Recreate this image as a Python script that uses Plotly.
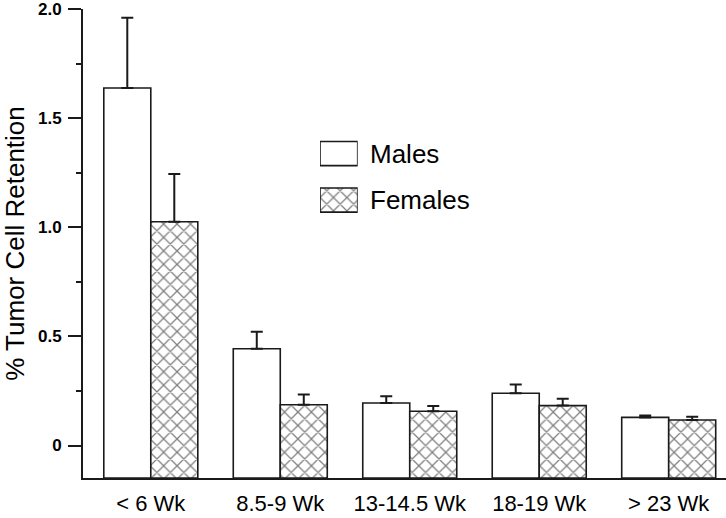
import plotly.graph_objects as go

categories = ["< 6 Wk", "8.5-9 Wk", "13-14.5 Wk", "18-19 Wk", "> 23 Wk"]
males = [1.64, 0.444, 0.195, 0.240, 0.129]
males_err = [0.322, 0.078, 0.031, 0.040, 0.009]
females = [1.026, 0.187, 0.157, 0.183, 0.117]
females_err = [0.219, 0.047, 0.024, 0.032, 0.015]
series_names = ["Males", "Females"]
y_tickvals = [0, 0.5, 1.0, 1.5, 2.0]
y_ticktext = ["0", "0.5", "1.0", "1.5", "2.0"]

Y_MIN = -0.149
Y_MAX = 2.002
FONT = "Liberation Sans, Arial, sans-serif"
INK = "#1a1a1a"

fig = go.Figure()

hatch = dict(shape="x", size=9.5, solidity=0.25, fgcolor="black", bgcolor="white")

fig.add_trace(go.Bar(
    name=series_names[0], x=categories,
    y=[v - Y_MIN for v in males], base=Y_MIN,
    marker=dict(color="white", line=dict(color=INK, width=1.6)),
    error_y=dict(type="data", symmetric=False, array=males_err,
                 arrayminus=[0] * len(males), color=INK, thickness=2, width=6),
    showlegend=False,
))
fig.add_trace(go.Bar(
    name=series_names[1], x=categories,
    y=[v - Y_MIN for v in females], base=Y_MIN,
    marker=dict(color="white", line=dict(color=INK, width=1.6), pattern=hatch),
    error_y=dict(type="data", symmetric=False, array=females_err,
                 arrayminus=[0] * len(females), color=INK, thickness=2, width=6),
    showlegend=False,
))

# legend swatches drawn on a small inset axis
fig.add_trace(go.Bar(
    orientation="h", y=[series_names[0]], x=[1], xaxis="x2", yaxis="y2",
    marker=dict(color="white", line=dict(color=INK, width=1.6)),
    showlegend=False, hoverinfo="skip",
))
fig.add_trace(go.Bar(
    orientation="h", y=[series_names[1]], x=[1], xaxis="x2", yaxis="y2",
    marker=dict(color="white", line=dict(color=INK, width=1.6), pattern=hatch),
    showlegend=False, hoverinfo="skip",
))

for name in series_names:
    fig.add_annotation(
        text=name, xref="paper", yref="y2", x=0.4432, y=name,
        xanchor="left", yanchor="middle", showarrow=False,
        font=dict(family=FONT, size=26, color="black"),
    )

fig.update_layout(
    width=726, height=518,
    margin=dict(l=83, r=0, t=9, b=40),
    paper_bgcolor="white", plot_bgcolor="white",
    barmode="group", bargap=0.274, bargroupgap=0,
    font=dict(family=FONT, color="black"),
    xaxis=dict(
        type="category", range=[-0.5236, 4.4425],
        showline=True, linewidth=2, linecolor=INK,
        ticks="", showgrid=False, zeroline=False,
        tickfont=dict(family=FONT, size=22, color="black"),
        ticklabelstandoff=5, automargin=False,
    ),
    yaxis=dict(
        range=[Y_MIN, Y_MAX],
        showline=True, linewidth=2, linecolor=INK,
        ticks="outside", ticklen=13, tickwidth=1.5, tickcolor=INK,
        tickvals=y_tickvals, ticktext=y_ticktext,
        minor=dict(dtick=0.25, tick0=0, ticks="outside", ticklen=5, tickwidth=1.5, tickcolor=INK),
        showgrid=False, zeroline=False,
        tickfont=dict(family=FONT, size=17, color="black", weight="bold"),
        ticklabelstandoff=3, ticklabeloverflow="allow", automargin=False,
        title=dict(text="% Tumor Cell Retention", standoff=16,
                   font=dict(family=FONT, size=26, color="black")),
    ),
    xaxis2=dict(domain=[0.3686, 0.4272], range=[0, 1], anchor="y2",
                visible=False, fixedrange=True),
    yaxis2=dict(domain=[0.543, 0.7413], anchor="x2", type="category",
                autorange="reversed", visible=False, fixedrange=True),
)
fig.update_traces(selector=dict(xaxis="x2"), width=0.52)

fig.write_html("out.html", config={"displayModeBar": False},
               post_script="document.body.style.margin='0';")
